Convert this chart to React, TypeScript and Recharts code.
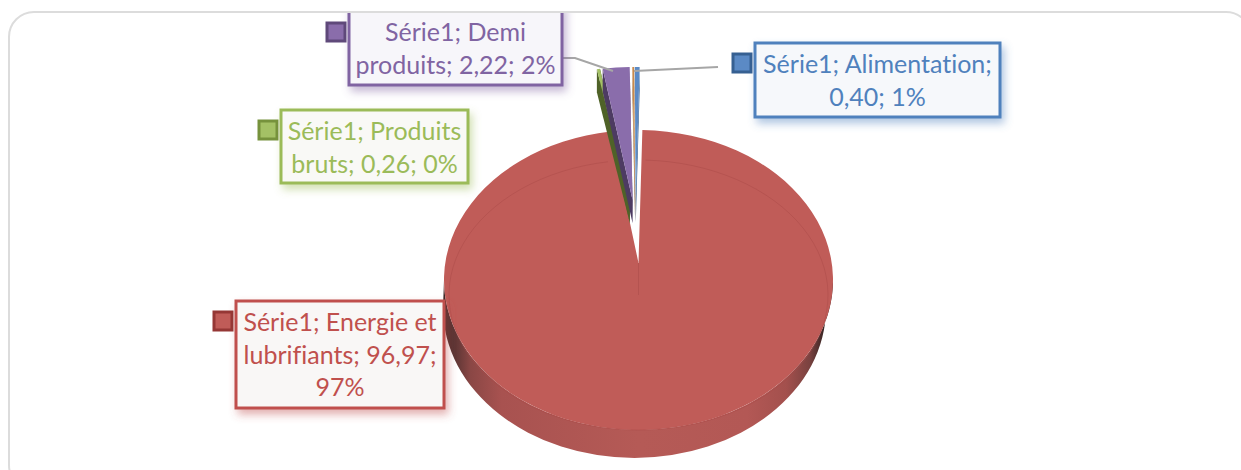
import React from "react";
import { PieChart, Pie, Cell } from "recharts";

const categories = ["Alimentation", "Energie et lubrifiants", "Produits bruts", "Demi produits", "Autres"];
const values = [0.4, 96.97, 0.26, 2.22, 0.15];
const labelLines = [
  ["Série1; Alimentation;", "0,40; 1%"],
  ["Série1; Energie et", "lubrifiants; 96,97;", "97%"],
  ["Série1; Produits", "bruts; 0,26; 0%"],
  ["Série1; Demi", "produits; 2,22; 2%"],
  [],
];

const colors = ["#5b8ac5", "#c05c58", "#a4c165", "#8a6dab", "#c98a4a"];
const darkColors = ["#2f5a8c", "#953735", "#4f6228", "#4d3b62", "#8a5a2a"];
const keyStrokes = ["#366092", "#953735", "#76923c", "#5f497a"];
const textColors = ["#4f81bd", "#c0504d", "#9bbb59", "#8064a2"];
const boxFills = ["#f6f8fb", "#f9f7f6", "#f9f9f6", "#f7f6fa"];

// label boxes: x, y, w, h, first baseline
const boxes = [
  { x: 755, y: 43, w: 245, h: 74, base: 73, keyX: 733, keyY: 54 },
  { x: 236, y: 301, w: 208, h: 107, base: 331, keyX: 214, keyY: 312 },
  { x: 281, y: 110, w: 187, h: 73, base: 140, keyX: 259, keyY: 121 },
  { x: 349, y: 4, w: 213, h: 81, base: 41, keyX: 327, keyY: 23 },
];
const leaders: Record<number, string> = {
  0: "M718 67 L634 71",
  3: "M562 58 L575 58 L613 71",
};

const WIDTH = 1241;
const HEIGHT = 470;
const RADIUS = 194.5;
const SQUASH = 150 / 194.5;
const DEPTH = 28;
const ARC_SHIFT = 17; // the back of the disc is foreshortened, the apex sits above the ellipse centre
const EXPLODE_X = 35;
const EXPLODE_Y = 63;
const SMALL_DEPTH = 23;
const NOTCH_TRIM = 1.5;

const rad = (a: number) => (a * Math.PI) / 180;

function Slice(props: any) {
  const { cx, cy, startAngle, endAngle, midAngle, fill, index } = props;
  const arcPoint = (ax: number, ay: number, a: number, rx: number, ry: number) =>
    `${ax + rx * Math.cos(rad(a))} ${ay - ry * Math.sin(rad(a))}`;
  const ry = RADIUS * SQUASH;

  if (index === 1) {
    const ellipseY = cy + ARC_SHIFT;
    const end = endAngle - NOTCH_TRIM;
    const top = `M${cx} ${cy} L${arcPoint(cx, ellipseY, startAngle, RADIUS, ry)} A${RADIUS} ${ry} 0 1 1 ${arcPoint(
      cx,
      ellipseY,
      end,
      RADIUS,
      ry
    )} Z`;
    // the underside sits a little to the left and is a little narrower
    const wallX = cx - 4;
    const wallR = RADIUS - 3;
    const wall = `M${cx - RADIUS} ${ellipseY} A${RADIUS} ${ry} 0 0 0 ${cx + RADIUS} ${ellipseY} L${wallX + wallR} ${
      ellipseY + DEPTH
    } A${wallR} ${ry} 0 0 1 ${wallX - wallR} ${ellipseY + DEPTH} Z`;
    const bevelY = ellipseY + 15;
    const bevelRx = RADIUS - 5;
    const bevelRy = 135;
    const bevel = `M${arcPoint(cx, bevelY, startAngle - 1, bevelRx, bevelRy)} A${bevelRx} ${bevelRy} 0 1 1 ${arcPoint(
      cx,
      bevelY,
      end + 1,
      bevelRx,
      bevelRy
    )}`;
    return (
      <g>
        <path d={wall} fill="url(#redWall)" />
        <path d={top} fill={fill} />
        <path d={bevel} fill="none" stroke="#a84a47" strokeOpacity={0.45} strokeWidth={1} />
        <path d={`M${cx} ${cy} L${cx} ${bevelY}`} stroke="#a84a47" strokeOpacity={0.5} strokeWidth={1} />
      </g>
    );
  }

  // small exploded slices
  const ax = cx - 3 + EXPLODE_X * Math.cos(rad(midAngle));
  const ay = cy - EXPLODE_Y;
  const ey = ay + ARC_SHIFT;
  const p1 = arcPoint(ax, ey, startAngle, RADIUS, ry);
  const p2 = arcPoint(ax, ey, endAngle, RADIUS, ry);
  const shifted = (a: number) => arcPoint(ax, ey + SMALL_DEPTH, a, RADIUS, ry);
  const side = (a: number, p: string) => `M${ax} ${ay} L${p} L${shifted(a)} L${ax} ${ay + SMALL_DEPTH} Z`;
  return (
    <g>
      <path d={side(endAngle, p2)} fill={darkColors[index]} />
      <path d={side(startAngle, p1)} fill={darkColors[index]} />
      <path d={`M${ax} ${ay} L${p1} A${RADIUS} ${ry} 0 0 1 ${p2} Z`} fill={fill} />
    </g>
  );
}

function Callout(props: any) {
  const { index } = props;
  const box = boxes[index];
  if (!box) return null;
  const c = textColors[index];
  return (
    <g>
      {leaders[index] && <path d={leaders[index]} fill="none" stroke="#a6a6a6" strokeWidth={2} />}
      <g clipPath="url(#frameClip)">
        <rect
          x={box.x}
          y={box.y}
          width={box.w}
          height={box.h}
          fill={boxFills[index]}
          stroke={c}
          strokeWidth={3}
          filter={`url(#shadow${index})`}
        />
        <rect x={box.keyX} y={box.keyY} width={18} height={18} fill={colors[index]} stroke={keyStrokes[index]} strokeWidth={3} />
        {labelLines[index].map((line, i) => (
          <text
            key={line}
            x={box.x + box.w / 2}
            y={box.base + i * 32.5}
            textAnchor="middle"
            fill={c}
            fontFamily="Lato, sans-serif"
            fontSize={25}
            style={{ fontVariantLigatures: "none" }}
          >
            {line}
          </text>
        ))}
      </g>
    </g>
  );
}

const data = categories.map((name, i) => ({ name, value: values[i] }));

export default function App() {
  return (
    <div style={{ position: "absolute", left: 0, top: 0, width: WIDTH, height: HEIGHT, overflow: "hidden", background: "#fff" }}>
      <div
        style={{
          position: "absolute",
          left: 8,
          top: 11,
          width: 1244,
          height: 480,
          boxSizing: "border-box",
          border: "2.5px solid #dcdcdc",
          borderRadius: 26,
        }}
      />
      <div style={{ position: "absolute", left: 0, top: 0 }}>
        <PieChart width={WIDTH} height={HEIGHT} margin={{ top: 0, right: 0, bottom: 0, left: 0 }}>
          <defs>
            <linearGradient id="redWall" x1="0" y1="0" x2="1" y2="0">
              <stop offset="0" stopColor="#3a2524" />
              <stop offset="0.03" stopColor="#5c3534" />
              <stop offset="0.07" stopColor="#8a4745" />
              <stop offset="0.15" stopColor="#a85250" />
              <stop offset="0.5" stopColor="#b55a56" />
              <stop offset="0.78" stopColor="#b35855" />
              <stop offset="0.88" stopColor="#a3504d" />
              <stop offset="0.94" stopColor="#7a4240" />
              <stop offset="0.98" stopColor="#352322" />
            </linearGradient>
            <clipPath id="frameClip">
              <rect x={0} y={13} width={WIDTH} height={HEIGHT} />
            </clipPath>
            {textColors.map((c, i) => (
              <filter key={c} id={`shadow${i}`} x="-10%" y="-15%" width="125%" height="140%">
                <feDropShadow dx={3} dy={5} stdDeviation={4} floodColor={c} floodOpacity={0.45} />
              </filter>
            ))}
          </defs>
          <Pie
            data={data}
            dataKey="value"
            nameKey="name"
            cx={638.5}
            cy={263}
            outerRadius={RADIUS}
            startAngle={90.3}
            endAngle={-269.7}
            paddingAngle={0}
            stroke="none"
            isAnimationActive={false}
            shape={Slice}
            label={Callout}
            labelLine={false}
          >
            {data.map((d, i) => (
              <Cell key={d.name} fill={colors[i]} />
            ))}
          </Pie>
        </PieChart>
      </div>
    </div>
  );
}
